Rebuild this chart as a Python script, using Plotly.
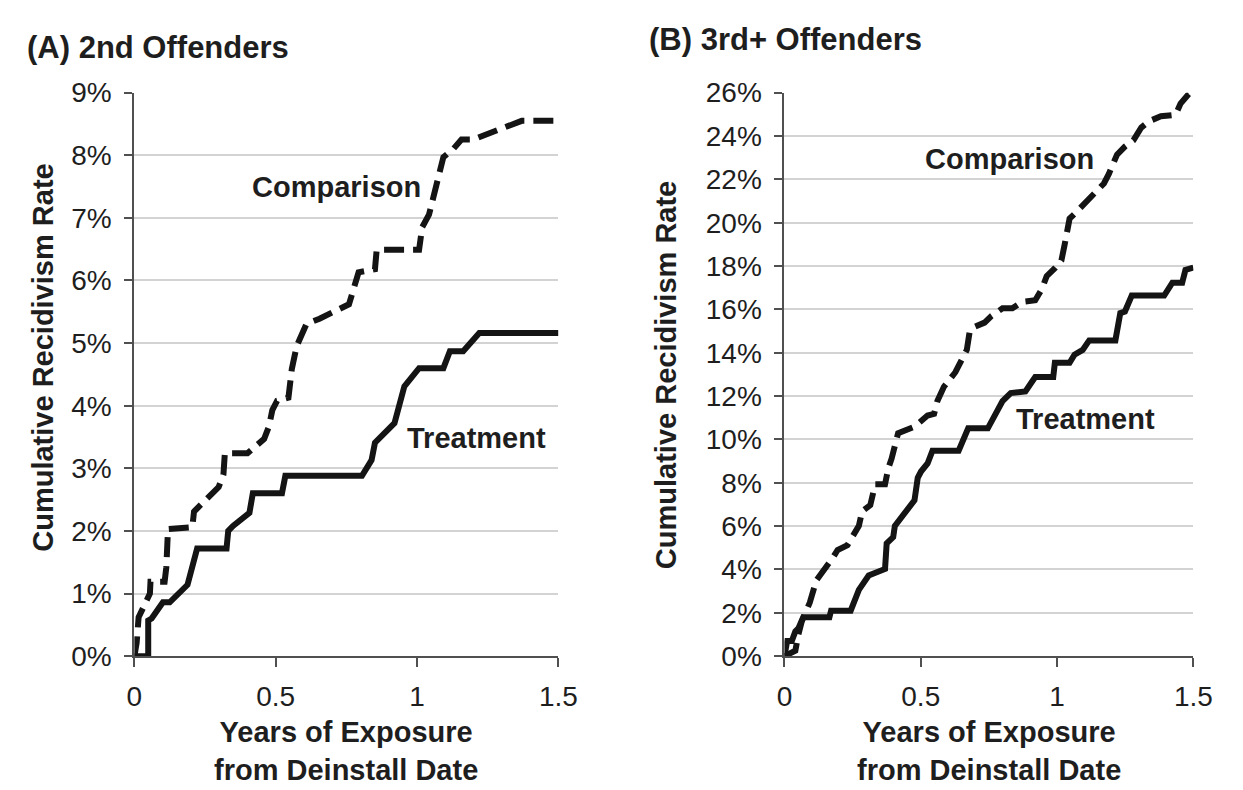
import plotly.graph_objects as go

# ---------------- data (years, cumulative recidivism %) ----------------
a_comp_x = [0.0, 0.008, 0.015, 0.032, 0.055, 0.057, 0.107, 0.113, 0.119, 0.205, 0.211, 0.24, 0.298,
            0.315, 0.32, 0.40, 0.459, 0.476, 0.488, 0.505, 0.545, 0.557, 0.574, 0.609, 0.655, 0.759,
            0.765, 0.793, 0.851, 0.857, 1.007, 1.018, 1.042, 1.053, 1.088, 1.093, 1.128, 1.157, 1.197,
            1.336, 1.37, 1.5]
a_comp_y = [0.0, 0.21, 0.62, 0.80, 1.0, 1.19, 1.19, 1.42, 2.03, 2.06, 2.31, 2.44, 2.70,
            2.90, 3.24, 3.24, 3.47, 3.67, 3.93, 4.08, 4.13, 4.59, 4.95, 5.31, 5.39, 5.62,
            5.72, 6.13, 6.18, 6.49, 6.49, 6.85, 7.05, 7.26, 7.87, 7.97, 8.10, 8.25, 8.25,
            8.48, 8.55, 8.55]

a_treat_x = [0.0, 0.049, 0.049, 0.061, 0.101, 0.125, 0.188, 0.205, 0.222, 0.326, 0.332, 0.349,
             0.407, 0.419, 0.522, 0.534, 0.805, 0.839, 0.851, 0.92, 0.955, 1.007, 1.093, 1.116,
             1.163, 1.22, 1.5]
a_treat_y = [0.0, 0.0, 0.57, 0.60, 0.86, 0.86, 1.14, 1.44, 1.72, 1.72, 2.0, 2.08,
             2.29, 2.60, 2.60, 2.88, 2.88, 3.13, 3.41, 3.72, 4.31, 4.60, 4.60, 4.87,
             4.87, 5.16, 5.16]

b_comp_x = [0.0, 0.04, 0.051, 0.063, 0.093, 0.117, 0.177, 0.195, 0.231, 0.273, 0.285, 0.315,
            0.333, 0.369, 0.381, 0.393, 0.417, 0.441, 0.477, 0.525, 0.549, 0.561, 0.585, 0.627,
            0.656, 0.669, 0.68, 0.692, 0.734, 0.758, 0.80, 0.836, 0.872, 0.92, 0.944, 0.962,
            0.992, 1.016, 1.028, 1.046, 1.07, 1.112, 1.124, 1.172, 1.19, 1.22, 1.249, 1.28,
            1.309, 1.339, 1.381, 1.435, 1.453, 1.483, 1.495]
b_comp_y = [0.0, 0.25, 0.99, 1.58, 2.47, 3.50, 4.53, 4.90, 5.12, 6.01, 6.68, 6.97,
            7.93, 7.93, 8.67, 9.11, 10.29, 10.44, 10.59, 11.10, 11.18, 11.77, 12.43, 13.10,
            13.83, 14.13, 15.02, 15.16, 15.39, 15.68, 16.05, 16.05, 16.35, 16.42, 16.93, 17.53,
            17.90, 18.26, 19.0, 20.19, 20.48, 21.0, 21.22, 21.81, 22.25, 23.14, 23.51, 23.80,
            24.39, 24.69, 24.91, 24.98, 25.50, 25.94, 26.0]

b_treat_x = [0.0, 0.01, 0.027, 0.04, 0.051, 0.069, 0.165, 0.171, 0.243, 0.273, 0.309, 0.369,
             0.375, 0.399, 0.405, 0.447, 0.477, 0.489, 0.501, 0.525, 0.543, 0.639, 0.656, 0.674,
             0.746, 0.80, 0.83, 0.884, 0.908, 0.92, 0.986, 0.992, 1.046, 1.064, 1.094, 1.118,
             1.214, 1.232, 1.249, 1.274, 1.393, 1.423, 1.459, 1.471, 1.5]
b_treat_y = [0.0, 0.70, 0.70, 1.14, 1.28, 1.80, 1.80, 2.10, 2.10, 3.06, 3.72, 4.02,
             5.20, 5.49, 6.01, 6.75, 7.19, 8.23, 8.52, 8.89, 9.48, 9.48, 9.92, 10.51,
             10.51, 11.77, 12.14, 12.21, 12.66, 12.88, 12.88, 13.54, 13.54, 13.91, 14.13, 14.57,
             14.57, 15.83, 15.90, 16.64, 16.64, 17.23, 17.23, 17.82, 17.93]

x_tickvals = [0, 0.5, 1, 1.5]
x_ticktext = ["0", "0.5", "1", "1.5"]
a_yticks = list(range(0, 10))
a_yticktext = ["%d%%" % v for v in a_yticks]
b_yticks = list(range(0, 27, 2))
b_yticktext = ["%d%%" % v for v in b_yticks]

panel_titles = ["(A) 2nd Offenders", "(B) 3rd+ Offenders"]
y_title = "Cumulative Recidivism Rate"
x_title = "Years of Exposure<br>from Deinstall Date"

# ---------------- figure ----------------
W, H = 1243, 790
FONT = "Liberation Sans, Arial, sans-serif"
INK = "#1e1e1e"
LINE = "#141414"
AXIS = "#505050"

def px(xp):
    return xp / W

def py(yp):
    return 1 - yp / H

fig = go.Figure()
dash = "20px,9px"
fig.add_trace(go.Scatter(x=a_comp_x, y=a_comp_y, mode="lines", xaxis="x", yaxis="y",
                         line=dict(color=LINE, width=6, dash=dash), showlegend=False))
fig.add_trace(go.Scatter(x=a_treat_x, y=a_treat_y, mode="lines", xaxis="x", yaxis="y",
                         line=dict(color=LINE, width=6), showlegend=False))
fig.add_trace(go.Scatter(x=b_comp_x, y=b_comp_y, mode="lines", xaxis="x2", yaxis="y2",
                         line=dict(color=LINE, width=6, dash=dash), showlegend=False))
fig.add_trace(go.Scatter(x=b_treat_x, y=b_treat_y, mode="lines", xaxis="x2", yaxis="y2",
                         line=dict(color=LINE, width=6), showlegend=False))

ydom = [py(659), py(72.5)]
xcommon = dict(range=[0, 1.5], tickmode="array", tickvals=x_tickvals, ticktext=x_ticktext,
               showline=True, linecolor=AXIS, linewidth=2, ticks="outside",
               ticklen=9, tickwidth=2, tickcolor=AXIS, showgrid=False, zeroline=False,
               tickfont=dict(family=FONT, size=28, color=INK), ticklabelstandoff=5,
               fixedrange=True)
ycommon = dict(showline=True, linecolor=AXIS, linewidth=2, ticks="outside",
               ticklen=8, tickwidth=2, tickcolor=AXIS, showgrid=True,
               gridcolor="#d3d3d3", gridwidth=1.5, zeroline=False, tickmode="array",
               tickfont=dict(family=FONT, size=28, color=INK), ticklabelstandoff=7,
               fixedrange=True)

fig.update_layout(
    width=W, height=H, margin=dict(l=0, r=0, t=0, b=0),
    paper_bgcolor="white", plot_bgcolor="white",
    xaxis=dict(domain=[px(121), px(554.5)], anchor="y", **xcommon),
    yaxis=dict(domain=ydom, anchor="x", range=[0, 9], tickvals=a_yticks,
               ticktext=a_yticktext, **ycommon),
    xaxis2=dict(domain=[px(785.5), px(1203.5)], anchor="y2", **xcommon),
    yaxis2=dict(domain=ydom, anchor="x2", range=[0, 26], tickvals=b_yticks,
                ticktext=b_yticktext, **ycommon),
    showlegend=False,
)

ann = []
bold = dict(family=FONT, size=29, color=INK)
tfont = dict(family=FONT, size=31, color=INK)

def label(text, x, y, font, **kw):
    d = dict(text=text, x=px(x), y=py(y), xref="paper", yref="paper",
             xanchor="center", yanchor="middle", showarrow=False, font=font)
    d.update(kw)
    ann.append(d)

# panel titles
label("<b>%s</b>" % panel_titles[0], 9, 25, tfont, xanchor="left")
label("<b>%s</b>" % panel_titles[1], 645, 17, tfont, xanchor="left")
# y titles
label("<b>%s</b>" % y_title, 28, 348, bold, textangle=-90)
label("<b>%s</b>" % y_title, 664, 367, bold, textangle=-90)
# x titles
label("<b>%s</b>" % x_title, (121 + 554.5) / 2, 758, bold)
label("<b>%s</b>" % x_title, (785.5 + 1203.5) / 2, 758, bold)
# series labels
label("<b>Comparison</b>", 327.5, 171, bold)
label("<b>Treatment</b>", 471, 432, bold)
label("<b>Comparison</b>", 1016, 142, bold)
label("<b>Treatment</b>", 1093, 412, bold)
fig.update_layout(annotations=ann)

fig.write_html("out.html", config={"displayModeBar": False})
